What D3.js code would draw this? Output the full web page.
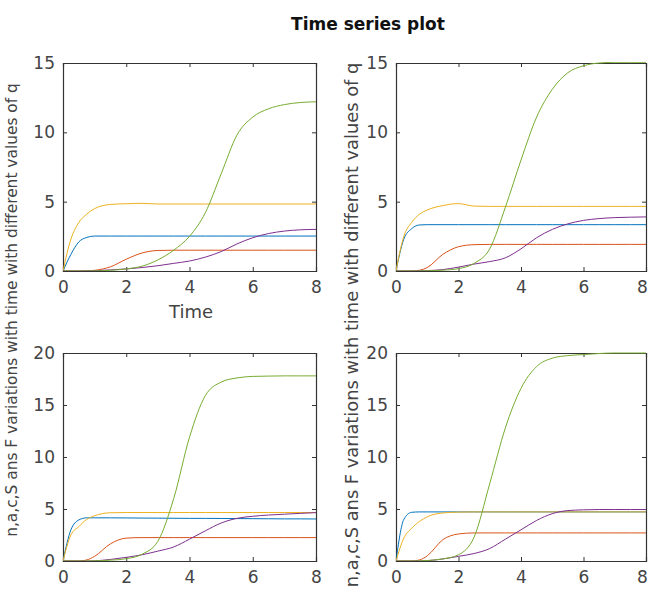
<!DOCTYPE html>
<html>
<head>
<meta charset="utf-8">
<script src="https://cdn.jsdelivr.net/npm/d3@7"></script>
<style>
  body { margin: 0; background: #fff; }
  svg { display: block; }
  text { font-family: "DejaVu Sans", sans-serif; }
</style>
</head>
<body>
<svg id="chart" width="650" height="594"></svg>
<script>
// time grid (shared by all panels)
var time = [0, 0.25, 0.5, 0.75, 1, 1.5, 2, 2.5, 3, 3.5, 4, 4.5, 5, 5.5, 6, 6.5, 7, 7.5, 8];

// panel 1 (top left)
var nQ1 = [0, 1.2, 2.1, 2.42, 2.52, 2.52, 2.52, 2.52, 2.52, 2.52, 2.52, 2.52, 2.52, 2.52, 2.52, 2.52, 2.52, 2.52, 2.52];
var aQ1 = [0, 0, 0, 0.01, 0.05, 0.3, 0.85, 1.3, 1.48, 1.5, 1.5, 1.5, 1.5, 1.5, 1.5, 1.5, 1.5, 1.5, 1.5];
var cQ1 = [0, 2.3, 3.5, 4.1, 4.5, 4.8, 4.85, 4.88, 4.83, 4.83, 4.83, 4.83, 4.83, 4.83, 4.83, 4.83, 4.83, 4.83, 4.83];
var sQ1 = [0, 0, 0, 0.01, 0.02, 0.08, 0.15, 0.25, 0.38, 0.55, 0.72, 1.0, 1.4, 1.95, 2.4, 2.7, 2.88, 2.97, 3.0];
var fQ1 = [0, 0, 0, 0, 0.01, 0.05, 0.15, 0.35, 0.8, 1.5, 2.5, 4.2, 7.0, 9.8, 11.1, 11.7, 12.0, 12.15, 12.2];

// panel 2 (top right)
var nQ2 = [0, 2.3, 3.05, 3.32, 3.34, 3.34, 3.34, 3.34, 3.34, 3.34, 3.34, 3.34, 3.34, 3.34, 3.34, 3.34, 3.34, 3.34, 3.34];
var aQ2 = [0, 0, 0, 0.05, 0.25, 1.2, 1.75, 1.9, 1.92, 1.92, 1.92, 1.92, 1.92, 1.92, 1.92, 1.92, 1.92, 1.92, 1.92];
var cQ2 = [0, 2.5, 3.5, 4.1, 4.4, 4.72, 4.86, 4.68, 4.66, 4.66, 4.66, 4.66, 4.66, 4.66, 4.66, 4.66, 4.66, 4.66, 4.66];
var sQ2 = [0, 0, 0, 0.01, 0.03, 0.1, 0.28, 0.5, 0.68, 0.95, 1.6, 2.4, 3.0, 3.4, 3.65, 3.78, 3.85, 3.88, 3.9];
var fQ2 = [0, 0, 0, 0, 0.02, 0.06, 0.17, 0.55, 1.6, 4.6, 8.0, 11.1, 13.1, 14.3, 14.8, 15.0, 15.05, 15.05, 15.05];

// panel 3 (bottom left)
var nQ3 = [0, 3.0, 3.95, 4.15, 4.15, 4.15, 4.14, 4.13, 4.12, 4.11, 4.1, 4.1, 4.09, 4.08, 4.07, 4.06, 4.05, 4.05, 4.04];
var aQ3 = [0, 0, 0, 0.1, 0.45, 1.65, 2.2, 2.25, 2.25, 2.25, 2.25, 2.25, 2.25, 2.25, 2.25, 2.25, 2.25, 2.25, 2.25];
var cQ3 = [0, 2.5, 3.3, 4.0, 4.35, 4.64, 4.66, 4.66, 4.66, 4.66, 4.66, 4.66, 4.66, 4.66, 4.66, 4.66, 4.66, 4.66, 4.66];
var sQ3 = [0, 0, 0, 0, 0.02, 0.15, 0.35, 0.6, 0.95, 1.35, 2.1, 2.9, 3.65, 4.1, 4.3, 4.42, 4.5, 4.58, 4.65];
var fQ3 = [0, 0, 0, 0, 0.02, 0.08, 0.22, 0.65, 1.9, 6.0, 11.9, 15.9, 17.2, 17.6, 17.75, 17.78, 17.8, 17.8, 17.8];

// panel 4 (bottom right)
var nQ4 = [0, 4.0, 4.68, 4.72, 4.72, 4.72, 4.72, 4.72, 4.72, 4.72, 4.72, 4.72, 4.72, 4.72, 4.72, 4.72, 4.72, 4.72, 4.72];
var aQ4 = [0, 0, 0, 0.1, 0.5, 2.05, 2.6, 2.7, 2.7, 2.7, 2.7, 2.7, 2.7, 2.7, 2.7, 2.7, 2.7, 2.7, 2.7];
var cQ4 = [0, 2.2, 3.15, 3.8, 4.25, 4.62, 4.7, 4.72, 4.72, 4.72, 4.72, 4.72, 4.72, 4.72, 4.72, 4.72, 4.72, 4.72, 4.72];
var sQ4 = [0, 0, 0, 0.01, 0.03, 0.2, 0.45, 0.72, 1.2, 2.1, 3.0, 3.9, 4.55, 4.85, 4.92, 4.95, 4.95, 4.95, 4.95];
var fQ4 = [0, 0, 0, 0.01, 0.05, 0.2, 0.6, 2.3, 7.45, 12.8, 16.6, 18.7, 19.5, 19.75, 19.85, 19.95, 20, 20, 20];

var xTicks = [0, 2, 4, 6, 8];
var yTicksTop = [0, 5, 10, 15];
var yTicksBottom = [0, 5, 10, 15, 20];
var colors = ["#0072BD", "#D95319", "#EDB120", "#7E2F8E", "#77AC30"];
var titleText = "Time series plot";
var yLabelText = "n,a,c,S ans F variations with time with different values of q";

var svg = d3.select("#chart");

var panels = [
  {left: 63, top: 63, w: 253, h: 208, ymax: 15, yt: yTicksTop, series: [nQ1, aQ1, cQ1, sQ1, fQ1]},
  {left: 396, top: 63, w: 250, h: 208, ymax: 15, yt: yTicksTop, series: [nQ2, aQ2, cQ2, sQ2, fQ2]},
  {left: 63, top: 353, w: 253, h: 208, ymax: 20, yt: yTicksBottom, series: [nQ3, aQ3, cQ3, sQ3, fQ3]},
  {left: 396, top: 353, w: 250, h: 208, ymax: 20, yt: yTicksBottom, series: [nQ4, aQ4, cQ4, sQ4, fQ4]}
];

panels.forEach(function(p, k){
  var x = d3.scaleLinear().domain([0, 8]).range([p.left, p.left + p.w]);
  var y = d3.scaleLinear().domain([0, p.ymax]).range([p.top + p.h, p.top]);
  var g = svg.append("g");

  g.append("clipPath").attr("id", "clip" + k)
    .append("rect").attr("x", p.left).attr("y", p.top - 1).attr("width", p.w).attr("height", p.h + 1);

  // axes, ticks pointing inward like octave
  var bottom = g.append("g").attr("transform", "translate(0," + (p.top + p.h) + ")")
    .call(d3.axisBottom(x).tickValues(xTicks).tickSize(-4).tickPadding(10).tickFormat(d3.format("d")));
  var top = g.append("g").attr("transform", "translate(0," + p.top + ")")
    .call(d3.axisTop(x).tickValues(xTicks).tickSize(-4).tickFormat(""));
  var left = g.append("g").attr("transform", "translate(" + p.left + ",0)")
    .call(d3.axisLeft(y).tickValues(p.yt).tickSize(-4).tickPadding(8).tickFormat(d3.format("d")));
  var right = g.append("g").attr("transform", "translate(" + (p.left + p.w) + ",0)")
    .call(d3.axisRight(y).tickValues(p.yt).tickSize(-4).tickFormat(""));
  [bottom, top, left, right].forEach(function(a){
    a.select(".domain").attr("stroke", "#333").attr("stroke-width", 1.2);
    a.selectAll(".tick line").attr("stroke", "#333");
    a.selectAll(".tick text").attr("fill", "#444").style("font-size", "17px")
      .style("font-family", "'DejaVu Sans', sans-serif");
  });
  // right column: last x label sits a bit left so it stays in the window
  if (p.left > 300) {
    bottom.selectAll(".tick text").filter(function(d){ return d === 8; }).attr("dx", -4);
  }

  var line = d3.line()
    .x(function(d, i){ return x(time[i]); })
    .y(function(d){ return y(d); })
    .curve(d3.curveMonotoneX);

  g.append("g").attr("clip-path", "url(#clip" + k + ")")
    .selectAll("path").data(p.series).enter().append("path")
    .attr("d", line)
    .attr("fill", "none")
    .attr("stroke", function(d, i){ return colors[i]; })
    .attr("stroke-width", 1);
});

svg.append("text").attr("x", 368).attr("y", 30).attr("text-anchor", "middle")
  .style("font-size", "17px").style("font-weight", "bold").attr("fill", "#111").text(titleText);

svg.append("text").attr("x", 191).attr("y", 318).attr("text-anchor", "middle")
  .style("font-size", "18px").attr("fill", "#444").text("Time");

// two rotated y labels, fitted to the lengths seen in the figure
function yLabel(cx, cy, len){
  var t = svg.append("text").attr("text-anchor", "middle").attr("fill", "#444")
    .style("font-size", "10px").text(yLabelText);
  var fs = 10 * len / t.node().getComputedTextLength();
  t.style("font-size", fs + "px")
    .attr("transform", "translate(" + cx + "," + cy + ") rotate(-90)")
    .attr("dy", "0.35em");
}
yLabel(12, 310, 454);
yLabel(352, 325, 525);
</script>
</body>
</html>
